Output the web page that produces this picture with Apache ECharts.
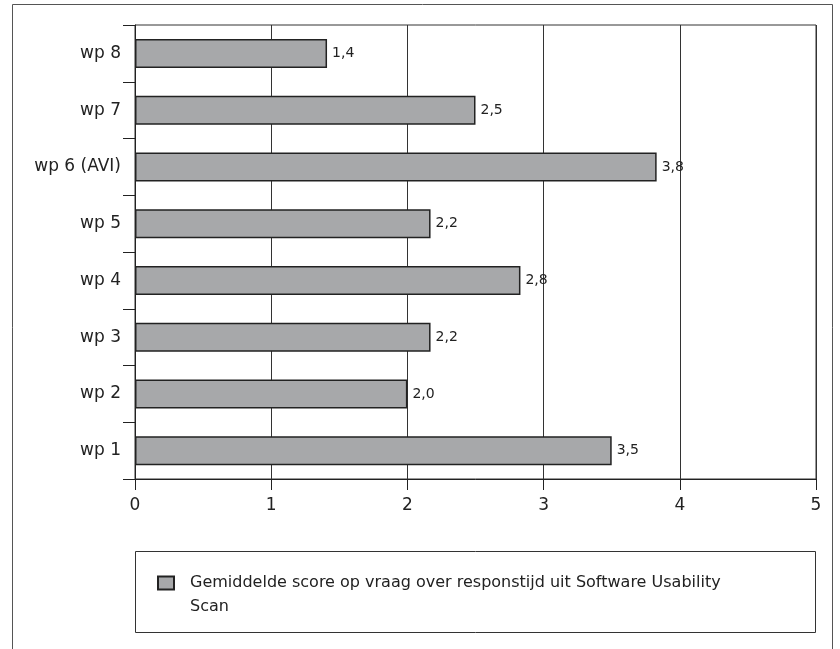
<!DOCTYPE html>
<html>
<head>
<meta charset="utf-8">
<script src="https://cdn.jsdelivr.net/npm/echarts@6/dist/echarts.min.js"></script>
<style>
  html, body { margin: 0; padding: 0; background: #fff; }
  #chartBar { width: 840px; height: 649px; }
</style>
</head>
<body>
<div id="chartBar"></div>
<script>
// data, bottom to top
const categories = ['wp 1', 'wp 2', 'wp 3', 'wp 4', 'wp 5', 'wp 6 (AVI)', 'wp 7', 'wp 8']
const scores = [3.5, 2.0, 2.17, 2.83, 2.17, 3.83, 2.5, 1.41]
const scoreLabels = ['3,5', '2,0', '2,2', '2,8', '2,2', '3,8', '2,5', '1,4']
const xTicks = [0, 1, 2, 3, 4, 5]
const seriesName = 'Gemiddelde score op vraag over responstijd uit Software Usability Scan'

const font = '"DejaVu Sans", Arial, sans-serif'

const init = () => {
  const chartDom = document.getElementById('chartBar');
  const myChart = echarts.init(chartDom);
  let option = {}
  option = {
    animation: false,
    textStyle: { fontFamily: font },
    grid: {
      left: 135,
      right: 24,
      top: 25,
      bottom: 170,
      show: true,
      borderColor: '#333',
      borderWidth: 1
    },
    graphic: [
      {
        type: 'rect',
        shape: { x: 12.5, y: 4.5, width: 820, height: 700 },
        style: { fill: 'none', stroke: '#555', lineWidth: 1 },
        z: 0
      },
      {
        type: 'rect',
        shape: { x: 135.5, y: 551.5, width: 680, height: 81 },
        style: { fill: 'none', stroke: '#333', lineWidth: 1 },
        z: 0
      }
    ],
    legend: {
      left: 157,
      top: 547,
      padding: 0,
      itemWidth: 16,
      itemHeight: 13,
      itemGap: 10,
      icon: 'rect',
      data: [seriesName],
      // empty first line keeps the square level with line one; "Scan" wraps
      formatter: (name) => '\n' + name.replace(' Scan', '\nScan'),
      textStyle: {
        fontFamily: font,
        fontSize: 16,
        color: '#222',
        lineHeight: 24,
        padding: [0, 0, 0, 11]
      }
    },
    xAxis: {
      type: 'value',
      min: 0,
      max: 5,
      interval: 1,
      axisLine: { show: true, lineStyle: { color: '#222', width: 1 } },
      axisTick: { show: true, length: 11, lineStyle: { color: '#222' } },
      splitLine: { show: true, lineStyle: { color: '#333', width: 1 } },
      axisLabel: {
        fontFamily: font,
        fontSize: 17,
        color: '#222',
        margin: 18,
        formatter: (v) => xTicks.includes(v) ? String(v) : ''
      }
    },
    yAxis: {
      type: 'category',
      data: categories,
      axisLine: { show: true, lineStyle: { color: '#222', width: 1 } },
      axisTick: { show: true, length: 12, lineStyle: { color: '#222' } },
      splitLine: { show: false },
      axisLabel: {
        fontFamily: font,
        fontSize: 17,
        color: '#222',
        margin: 14
      }
    },
    series: [
      {
        name: seriesName,
        type: 'bar',
        data: scores,
        barWidth: 29,
        itemStyle: {
          color: '#a7a8aa',
          borderColor: '#222',
          borderWidth: 1.5
        },
        label: {
          show: true,
          position: 'right',
          distance: 5,
          fontFamily: font,
          fontSize: 14,
          color: '#222',
          formatter: (p) => scoreLabels[p.dataIndex]
        }
      }
    ]
  };
  option && myChart.setOption(option);
}

init()
</script>
</body>
</html>
